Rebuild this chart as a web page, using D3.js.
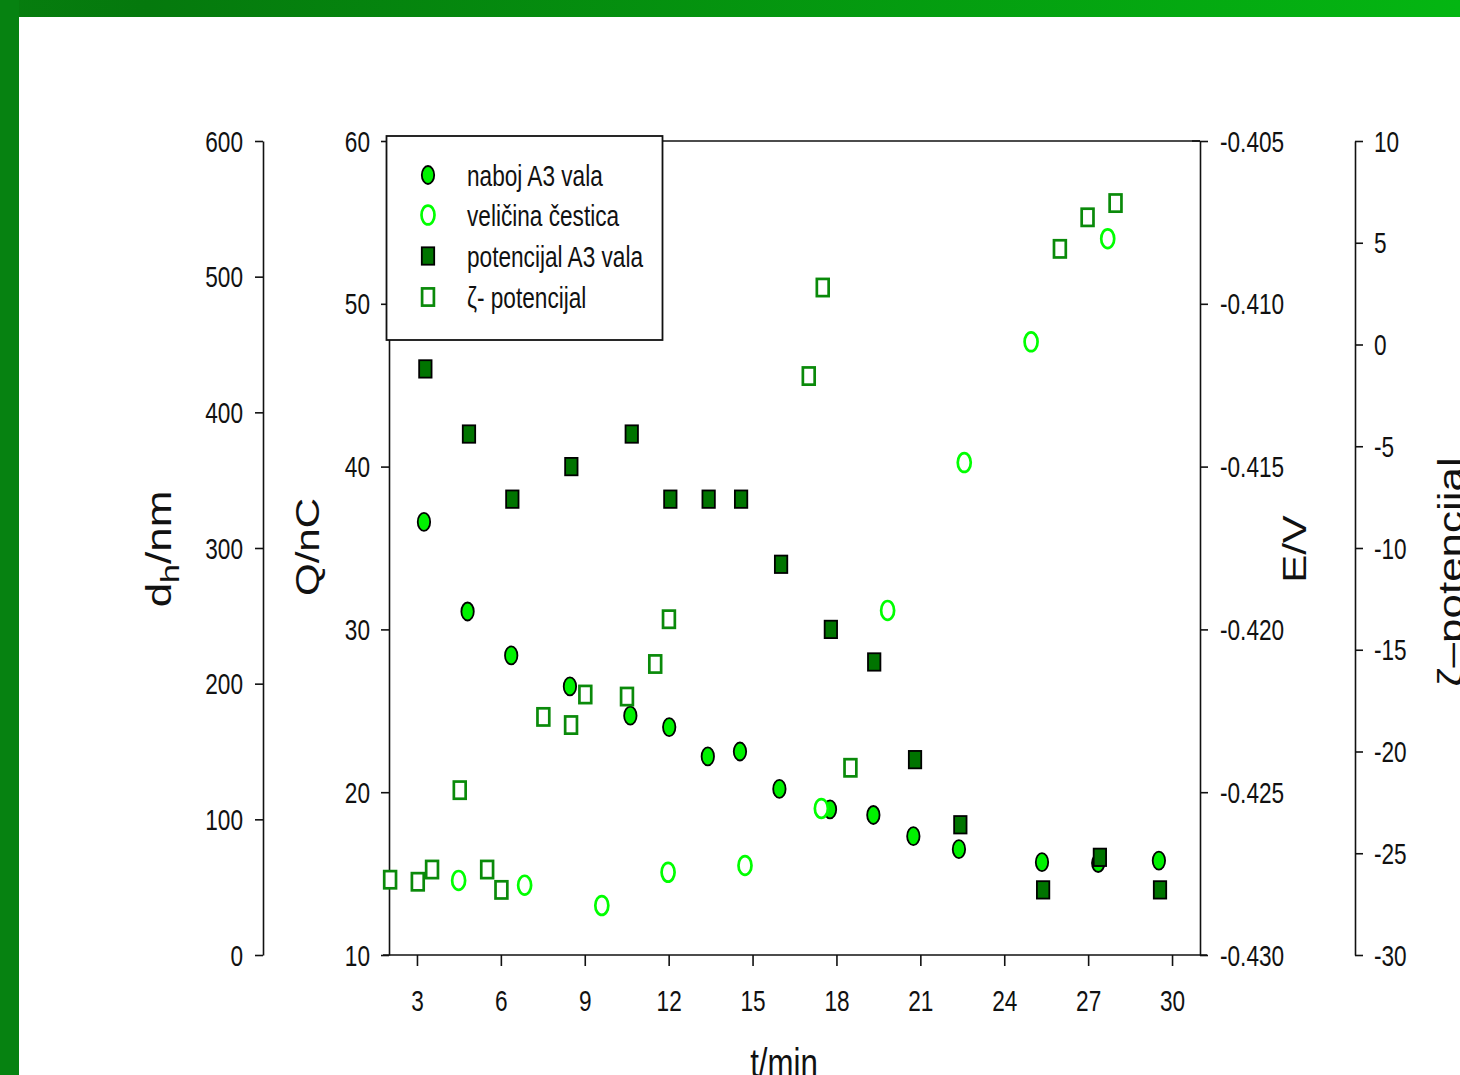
<!DOCTYPE html>
<html><head><meta charset="utf-8">
<script src="https://cdn.jsdelivr.net/npm/d3@7"></script>
<style>html,body{margin:0;padding:0;background:#fff;overflow:hidden}</style>
</head><body><div id="chart"></div>
<script>
// ---- data ----
const chargeT = [3.25, 4.81, 6.37, 8.47, 10.63, 12.02, 13.40, 14.55, 15.96, 17.77, 19.32, 20.75, 22.38, 25.35, 27.36, 29.53];
const chargeQ = [36.6, 31.1, 28.4, 26.5, 24.7, 24.0, 22.2, 22.5, 20.2, 18.95, 18.6, 17.3, 16.5, 15.7, 15.65, 15.8];
const sizeT = [4.49, 6.85, 9.61, 11.98, 14.73, 17.46, 19.83, 22.57, 24.96, 27.70];
const sizeD = [55, 51.5, 36.5, 61, 66, 108, 254, 363, 452, 528];
const potT = [3.30, 4.86, 6.41, 8.52, 10.68, 12.06, 13.43, 14.59, 16.02, 17.80, 19.35, 20.81, 22.43, 25.39, 27.42, 29.57];
const potE = [-0.412, -0.414, -0.416, -0.415, -0.414, -0.416, -0.416, -0.416, -0.418, -0.420, -0.421, -0.424, -0.426, -0.428, -0.427, -0.428];
const zetaT = [2.04, 3.03, 3.54, 4.53, 5.51, 6.02, 7.52, 8.51, 9.02, 10.51, 11.52, 12.01, 17.01, 17.51, 18.50, 25.99, 26.98, 27.98];
const zetaV = [-26.3, -26.4, -25.8, -21.9, -25.8, -26.8, -18.3, -18.7, -17.2, -17.3, -15.7, -13.5, -1.55, 2.8, -20.8, 4.7, 6.25, 6.95];
const xTicks = [3, 6, 9, 12, 15, 18, 21, 24, 27, 30];
const dTicks = [0, 100, 200, 300, 400, 500, 600];
const qTicks = [10, 20, 30, 40, 50, 60];
const eTicks = [-0.430, -0.425, -0.420, -0.415, -0.410, -0.405];
const zTicks = [-30, -25, -20, -15, -10, -5, 0, 5, 10];
const legendLabels = ["naboj A3 vala", "veličina čestica", "potencijal A3 vala", "ζ- potencijal"];

// ---- layout ----
const W = 1460, H = 1075, SX = 0.78;
const FONT = "'Liberation Sans', Arial, sans-serif";
const svg = d3.select("#chart").append("svg").attr("width", W).attr("height", H)
  .style("font-family", FONT);

const defs = svg.append("defs");
const grad = defs.append("linearGradient").attr("id", "topg").attr("x1", "0").attr("x2", "1").attr("y1", "0").attr("y2", "0");
grad.append("stop").attr("offset", "0").attr("stop-color", "#067d0e");
grad.append("stop").attr("offset", "0.1").attr("stop-color", "#05790d");
grad.append("stop").attr("offset", "1").attr("stop-color", "#04b612");
svg.append("rect").attr("x", 0).attr("y", 0).attr("width", W).attr("height", 17).attr("fill", "url(#topg)");
svg.append("rect").attr("x", 0).attr("y", 0).attr("width", 19).attr("height", H).attr("fill", "#068211");

const x = d3.scaleLinear().domain([2, 31]).range([389, 1200]);
const yQ = d3.scaleLinear().domain([10, 60]).range([955, 141]);
const yD = d3.scaleLinear().domain([0, 600]).range([955, 141]);
const yE = d3.scaleLinear().domain([-0.430, -0.405]).range([955, 141]);
const yZ = d3.scaleLinear().domain([-30, 10]).range([955, 141]);

function styleAxis(g, fmtSide, off) {
  g.attr("font-size", null).attr("font-family", null);
  g.selectAll("path.domain").attr("stroke", "#111").attr("stroke-width", 1.6);
  g.selectAll(".tick line").attr("stroke", "#111").attr("stroke-width", 1.6);
  const t = g.selectAll(".tick text").attr("fill", "#111").style("font-size", "29px").style("font-family", FONT)
    .attr("transform", `scale(${SX},1)`);
  if (fmtSide === "left") t.attr("x", -off / SX).attr("dy", "0.35em").attr("text-anchor", "end");
  if (fmtSide === "right") t.attr("x", off / SX).attr("dy", "0.35em").attr("text-anchor", "start");
  if (fmtSide === "bottom") t.attr("y", off).attr("dy", "0").attr("text-anchor", "middle");
}

// d_h axis
const gD = svg.append("g").attr("transform", "translate(263,0)")
  .call(d3.axisLeft(yD).tickValues(dTicks).tickSize(8).tickSizeOuter(0).tickFormat(d3.format("d")));
styleAxis(gD, "left", 20);
// Q axis
const gQ = svg.append("g").attr("transform", "translate(389,0)")
  .call(d3.axisLeft(yQ).tickValues(qTicks).tickSize(8).tickSizeOuter(0).tickFormat(d3.format("d")));
styleAxis(gQ, "left", 19);
// E axis
const gE = svg.append("g").attr("transform", "translate(1200,0)")
  .call(d3.axisRight(yE).tickValues(eTicks).tickSize(8).tickSizeOuter(0).tickFormat(d => d.toFixed(3)));
styleAxis(gE, "right", 20);
// zeta axis
const gZ = svg.append("g").attr("transform", "translate(1355,0)")
  .call(d3.axisRight(yZ).tickValues(zTicks).tickSize(8).tickSizeOuter(0).tickFormat(d => String(d)));
styleAxis(gZ, "right", 19);
// x axis
const gX = svg.append("g").attr("transform", "translate(0,955)")
  .call(d3.axisBottom(x).tickValues(xTicks).tickSize(11).tickSizeOuter(0).tickFormat(d3.format("d")));
styleAxis(gX, "bottom", 56);
gX.select("path.domain").remove();
svg.append("line").attr("x1", 383).attr("x2", 1207).attr("y1", 955).attr("y2", 955).attr("stroke", "#111").attr("stroke-width", 1.6);
// top border of plot
svg.append("line").attr("x1", 389).attr("x2", 1200).attr("y1", 141).attr("y2", 141).attr("stroke", "#111").attr("stroke-width", 1.6);
svg.append("line").attr("x1", 1192).attr("x2", 1200).attr("y1", 141).attr("y2", 141).attr("stroke", "#111").attr("stroke-width", 1.6);

// titles
function title(tx, ty, rot, size) {
  return svg.append("text")
    .attr("transform", `translate(${tx},${ty}) scale(${SX},1)` + (rot ? " rotate(-90)" : ""))
    .attr("text-anchor", "middle").attr("fill", "#111").style("font-size", size + "px");
}
const tD = title(171, 549, true, 44);
tD.append("tspan").text("d");
tD.append("tspan").attr("dy", 10).style("font-size", "34px").text("h");
tD.append("tspan").attr("dy", -10).text("/nm");
title(319, 547, true, 42).text("Q/nC");
title(1306, 549, true, 42).text("E/V");
title(1463, 572, true, 44).text("ζ–potencijal");
title(784, 1077, false, 40).text("t/min");

// ---- markers ----
const FILLC = "#00f200", SQF = "#007400", OSQ = "#0a8a0a";
function filledCircle(g, cx, cy) {
  g.append("ellipse").attr("cx", cx).attr("cy", cy).attr("rx", 6.2).attr("ry", 9)
    .attr("fill", FILLC).attr("stroke", "#000").attr("stroke-width", 1.8);
}
function openCircle(g, cx, cy) {
  g.append("ellipse").attr("cx", cx).attr("cy", cy).attr("rx", 6.5).attr("ry", 9.4)
    .attr("fill", "#fff").attr("stroke", "#00ff00").attr("stroke-width", 2.7);
}
function filledSquare(g, cx, cy) {
  g.append("rect").attr("x", cx - 6.2).attr("y", cy - 8.7).attr("width", 12.4).attr("height", 17.4)
    .attr("fill", SQF).attr("stroke", "#000").attr("stroke-width", 1.8);
}
function openSquare(g, cx, cy) {
  g.append("rect").attr("x", cx - 5.9).attr("y", cy - 8.6).attr("width", 11.8).attr("height", 17.2)
    .attr("fill", "#fff").attr("stroke", OSQ).attr("stroke-width", 2.7);
}

const marks = svg.append("g");
chargeT.forEach((t, i) => filledCircle(marks, x(t), yQ(chargeQ[i])));
sizeT.forEach((t, i) => openCircle(marks, x(t), yD(sizeD[i])));
potT.forEach((t, i) => filledSquare(marks, x(t), yE(potE[i])));
zetaT.forEach((t, i) => openSquare(marks, x(t), yZ(zetaV[i])));

// ---- legend ----
const lg = svg.append("g");
lg.append("rect").attr("x", 386.5).attr("y", 136).attr("width", 276).attr("height", 204)
  .attr("fill", "#fff").attr("stroke", "#111").attr("stroke-width", 1.8);
const markerFns = [filledCircle, openCircle, filledSquare, openSquare];
const legY = [175, 215, 256, 297];
legendLabels.forEach((lab, i) => {
  markerFns[i](lg, 428, legY[i]);
  lg.append("text").attr("transform", `translate(467,${legY[i] + 11}) scale(${SX},1)`)
    .attr("fill", "#111").style("font-size", "29px").text(lab);
});
</script></body></html>
